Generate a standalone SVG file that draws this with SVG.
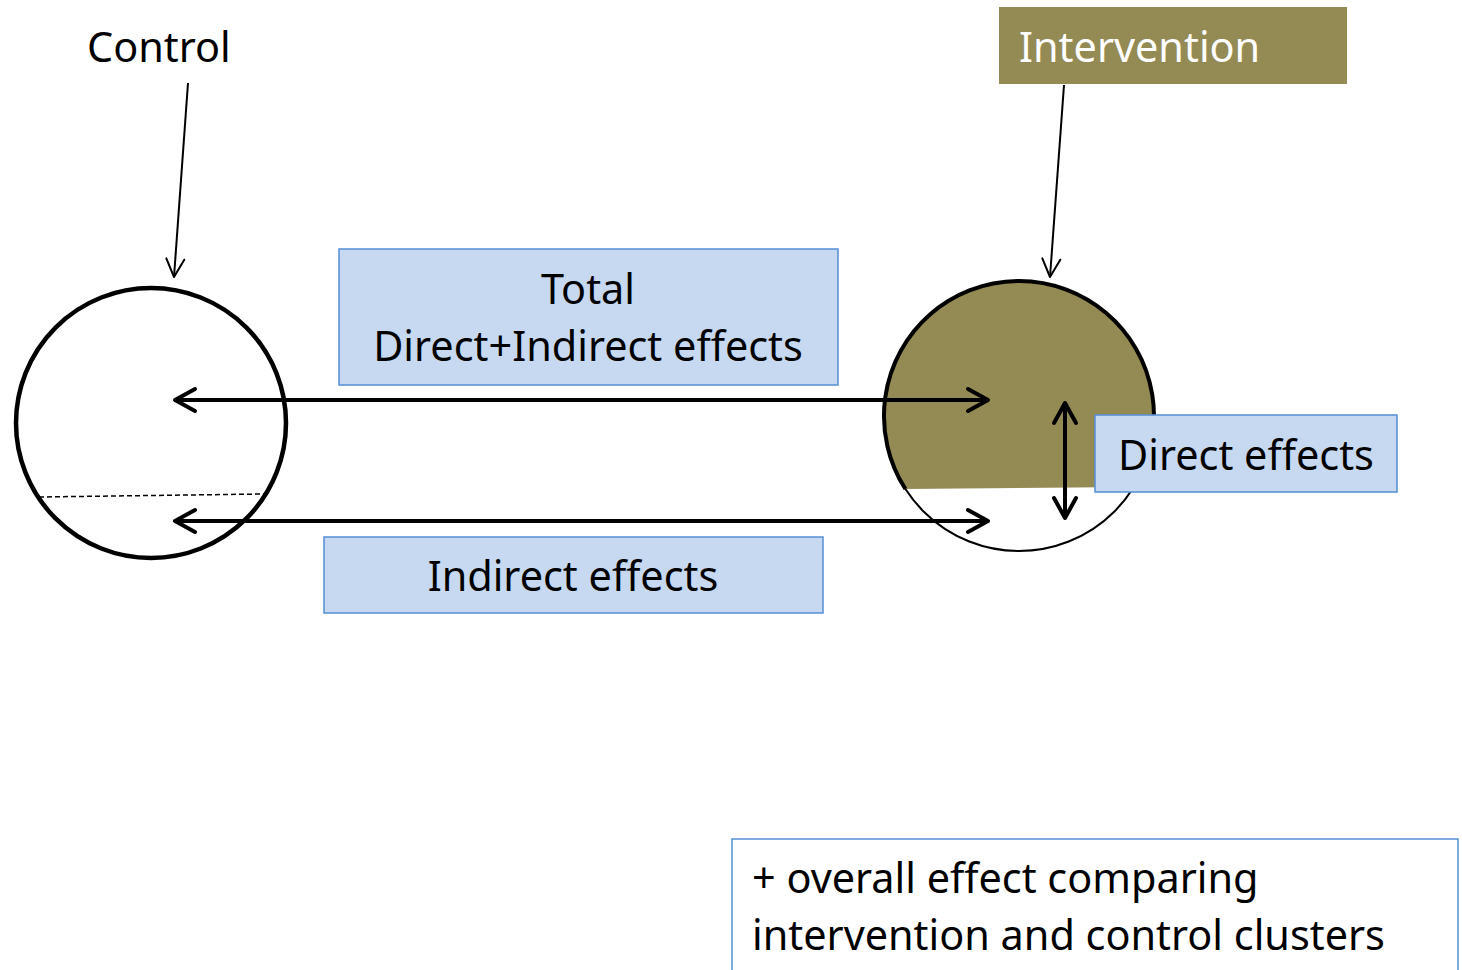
<svg xmlns="http://www.w3.org/2000/svg" width="1462" height="970" viewBox="0 0 1462 970">
  <style>
    .lbl { font-family: "Noto Sans", "Open Sans", sans-serif; font-size: 41.4px; fill: #000; }
    .mid { text-anchor: middle; }
    .box { fill: #C6D9F1; stroke: #558ED5; stroke-width: 1.5; }
    .thick { fill: none; stroke: #000; stroke-width: 4; }
    .thin { fill: none; stroke: #000; stroke-width: 2; }
  </style>
  <defs>
    <marker id="headBig" viewBox="-26 -16 30 32" refX="0" refY="0" markerUnits="userSpaceOnUse" markerWidth="30" markerHeight="32" orient="auto-start-reverse">
      <path d="M -20 -11 L 0 0 L -20 11" fill="none" stroke="#000" stroke-width="4" stroke-linecap="round" stroke-linejoin="round"/>
    </marker>
    <marker id="headSmall" viewBox="-22 -12 24 24" refX="0" refY="0" markerUnits="userSpaceOnUse" markerWidth="24" markerHeight="24" orient="auto">
      <path d="M -18 -9 L 0 0 L -18 9" fill="none" stroke="#000" stroke-width="2" stroke-linecap="round" stroke-linejoin="round"/>
    </marker>
  </defs>
  <rect width="1462" height="970" fill="#fff"/>

  <!-- control cluster -->
  <g id="control-label">
    <text class="lbl" x="87" y="62">Control</text>
  </g>
  <g id="control-cluster">
    <circle cx="151" cy="423" r="135" fill="#fff" stroke="#000" stroke-width="4.5"/>
    <line x1="39" y1="497" x2="264" y2="494" stroke="#000" stroke-width="1.5" stroke-dasharray="5 3"/>
  </g>

  <!-- intervention cluster -->
  <g id="intervention-label">
    <rect x="999" y="7" width="348" height="77" fill="#948A54"/>
    <text class="lbl" x="1019" y="62" style="fill:#fff">Intervention</text>
  </g>
  <g id="intervention-cluster">
    <circle cx="1019" cy="416" r="135" fill="#fff" stroke="#000" stroke-width="2"/>
    <path d="M 905.4 489 A 135 135 0 1 1 1133.8 487 Z" fill="#948A54"/>
    <path d="M 905.4 489 A 135 135 0 1 1 1133.8 487" class="thick"/>
  </g>

  <!-- effect labels -->
  <g id="total-label">
    <rect class="box" x="339" y="249" width="499" height="136"/>
    <text class="lbl mid" x="588" y="304">Total</text>
    <text class="lbl mid" x="588" y="361">Direct+Indirect effects</text>
  </g>
  <g id="indirect-label">
    <rect class="box" x="324" y="537" width="499" height="76"/>
    <text class="lbl mid" x="573" y="591">Indirect effects</text>
  </g>

  <!-- connectors -->
  <g id="connectors">
    <line x1="188" y1="83" x2="174" y2="277" class="thin" marker-end="url(#headSmall)"/>
    <line x1="1064" y1="85" x2="1050" y2="277" class="thin" marker-end="url(#headSmall)"/>
    <line x1="175" y1="400" x2="988" y2="400" class="thick" marker-start="url(#headBig)" marker-end="url(#headBig)"/>
    <line x1="175" y1="521" x2="988" y2="521" class="thick" marker-start="url(#headBig)" marker-end="url(#headBig)"/>
    <line x1="1065" y1="403" x2="1065" y2="518" class="thick" marker-start="url(#headBig)" marker-end="url(#headBig)"/>
  </g>

  <g id="direct-label">
    <rect class="box" x="1095" y="415" width="302" height="77"/>
    <text class="lbl mid" x="1246" y="470">Direct effects</text>
  </g>

  <!-- overall comparison note -->
  <g id="overall-note">
    <path d="M 732 970 L 732 839 L 1458 839 L 1458 970" fill="#fff" stroke="#558ED5" stroke-width="1.5"/>
    <text class="lbl" x="752" y="893">+ overall effect comparing</text>
    <text class="lbl" x="752" y="950">intervention and control clusters</text>
  </g>
</svg>
